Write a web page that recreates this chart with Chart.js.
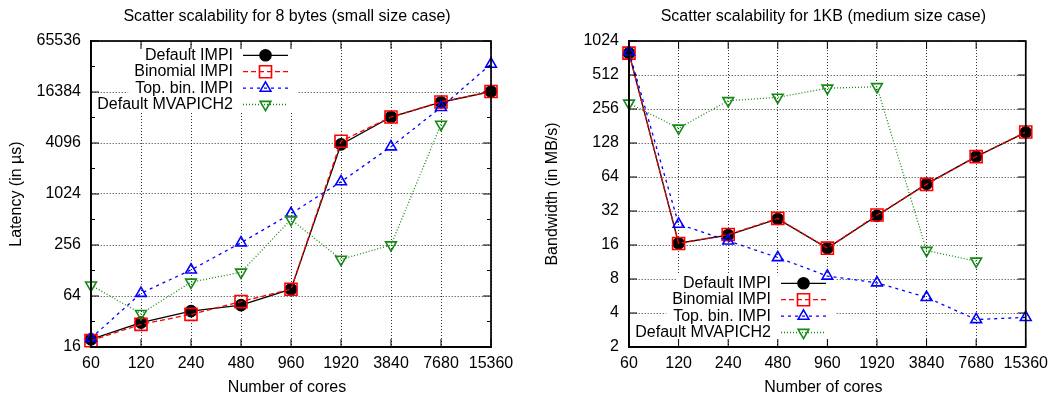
<!DOCTYPE html>
<html>
<head>
<meta charset="utf-8">
<script src="https://cdn.jsdelivr.net/npm/chart.js@4.4.0/dist/chart.umd.min.js"></script>
<style>
  html, body { margin: 0; padding: 0; background: #fff; }
  #wrap { position: relative; width: 1055px; height: 399px; }
  canvas { position: absolute; top: 0; }
</style>
</head>
<body>
<div id="wrap">
  <canvas id="small" width="527" height="399" style="left:0"></canvas>
  <canvas id="medium" width="528" height="399" style="left:527px"></canvas>
</div>
<script>
const cores = ['60', '120', '240', '480', '960', '1920', '3840', '7680', '15360'];
const seriesNames = ['Default IMPI', 'Binomial IMPI', 'Top. bin. IMPI', 'Default MVAPICH2'];

// 8 bytes, latency in us
const smallDefault  = [19.7, 31, 42.4, 50, 77, 3950, 8300, 12400, 16600];
const smallBinomial = [19, 29.6, 38.8, 55, 77, 4300, 8300, 12500, 16600];
const smallTopBin   = [20.3, 69, 130, 272, 600, 1430, 3700, 10800, 35000];
const smallMvapich  = [86, 39.6, 93, 122, 512, 173, 256, 6800, null];
const smallTicks = [16, 64, 256, 1024, 4096, 16384, 65536];
const smallMinor = [32, 128, 512, 2048, 8192, 32768];

// 1KB, bandwidth in MB/s
const mediumDefault  = [800, 16.6, 19.6, 27.2, 15, 29, 55.6, 97, 159];
const mediumBinomial = [800, 16.5, 19.8, 27.5, 15, 29.5, 55, 97, 160];
const mediumTopBin   = [820, 24.5, 17.4, 12.4, 8.5, 7.4, 5.5, 3.5, 3.66];
const mediumMvapich  = [288, 173, 303, 325, 391, 403, 14.3, 11.5, null];
const mediumTicks = [2, 4, 8, 16, 32, 64, 128, 256, 512, 1024];

const FONT = '16px "Liberation Sans", Arial, sans-serif';
Chart.defaults.font.family = '"Liberation Sans", Arial, sans-serif';
Chart.defaults.font.size = 16;
Chart.defaults.color = '#000';

const looks = [
  { color: '#000000', dash: [], point: 'circle', radius: 5.5, fill: '#000000', rot: 0 },
  { color: '#ff0000', dash: [5, 3], point: 'rect', radius: 8.5, fill: 'rgba(0,0,0,0)', rot: 0 },
  { color: '#0000ff', dash: [3, 4], point: 'triangle', radius: 6.2, fill: 'rgba(0,0,0,0)', rot: 0 },
  { color: '#138a13', dash: [1, 2], point: 'triangle', radius: 6.2, fill: 'rgba(0,0,0,0)', rot: 180 }
];

function drawMarker(ctx, ds, x, y) {
  ctx.save();
  ctx.setLineDash([]);
  ctx.lineWidth = ds.pointBorderWidth;
  ctx.strokeStyle = ds.borderColor;
  ctx.fillStyle = ds.pointBackgroundColor;
  const r = ds.pointRadius;
  ctx.beginPath();
  if (ds.pointStyle === 'circle') {
    ctx.arc(x, y, r, 0, Math.PI * 2);
  } else if (ds.pointStyle === 'rect') {
    const h = r * Math.SQRT1_2;
    ctx.rect(x - h, y - h, 2 * h, 2 * h);
  } else {
    const rot = ds.pointRotation * Math.PI / 180;
    for (let k = 0; k < 3; k++) {
      const t = rot + k * 2 * Math.PI / 3;
      const px = x + Math.sin(t) * r, py = y - Math.cos(t) * r;
      if (k === 0) ctx.moveTo(px, py); else ctx.lineTo(px, py);
    }
    ctx.closePath();
  }
  ctx.fill();
  ctx.stroke();
  ctx.restore();
}

// gnuplot look: opaque key rows, full border, inward ticks, titles
const gnuplotLook = {
  id: 'gnuplotLook',
  beforeDatasetsDraw(chart, args, opts) {
    const ctx = chart.ctx, a = chart.chartArea;
    ctx.save();
    ctx.font = FONT;
    ctx.fillStyle = '#fff';
    chart.data.datasets.forEach((ds, i) => {
      const y = opts.keyY + i * opts.keyStep;
      const left = Math.max(a.left + 1.5, opts.keyRight - ctx.measureText(ds.label).width - 7);
      ctx.fillRect(left, y - opts.keyStep / 2, opts.keyRight + 64 - left, opts.keyStep);
    });
    ctx.restore();
  },
  afterDatasetsDraw(chart, args, opts) {
    const ctx = chart.ctx, a = chart.chartArea;
    const xs = chart.scales.x, ys = chart.scales.y;
    ctx.save();
    ctx.strokeStyle = '#000';
    ctx.lineWidth = 1;
    ctx.beginPath();
    cores.forEach((c, i) => {
      const px = xs.getPixelForValue(i);
      ctx.moveTo(px, a.bottom); ctx.lineTo(px, a.bottom - 8);
      ctx.moveTo(px, a.top); ctx.lineTo(px, a.top + 8);
    });
    opts.major.forEach(v => {
      const py = ys.getPixelForValue(v);
      ctx.moveTo(a.left, py); ctx.lineTo(a.left + 8, py);
      ctx.moveTo(a.right, py); ctx.lineTo(a.right - 8, py);
    });
    opts.minor.forEach(v => {
      const py = ys.getPixelForValue(v);
      ctx.moveTo(a.left, py); ctx.lineTo(a.left + 4, py);
      ctx.moveTo(a.right, py); ctx.lineTo(a.right - 4, py);
    });
    ctx.stroke();
    ctx.lineWidth = 1.7;
    ctx.strokeRect(a.left, a.top, a.right - a.left, a.bottom - a.top);

    // key
    ctx.font = FONT;
    ctx.textAlign = 'right';
    ctx.textBaseline = 'middle';
    ctx.fillStyle = '#000';
    chart.data.datasets.forEach((ds, i) => {
      const y = opts.keyY + i * opts.keyStep;
      ctx.fillText(ds.label, opts.keyRight, y);
      ctx.save();
      ctx.strokeStyle = ds.borderColor;
      ctx.lineWidth = ds.borderWidth;
      ctx.setLineDash(ds.borderDash);
      ctx.beginPath();
      ctx.moveTo(opts.keyRight + 10, y);
      ctx.lineTo(opts.keyRight + 55, y);
      ctx.stroke();
      ctx.restore();
      drawMarker(ctx, ds, opts.keyRight + 32.5, y);
    });
    ctx.restore();
  },
  afterDraw(chart, args, opts) {
    const ctx = chart.ctx, a = chart.chartArea;
    const cx = (a.left + a.right) / 2 - 4;
    ctx.save();
    ctx.font = FONT;
    ctx.fillStyle = '#000';
    ctx.textAlign = 'center';
    ctx.textBaseline = 'middle';
    ctx.fillText(opts.title, cx, 16.7);
    ctx.fillText(opts.xTitle, cx, 388);
    ctx.translate(opts.yTitleX, (a.top + a.bottom) / 2);
    ctx.rotate(-Math.PI / 2);
    ctx.fillText(opts.yTitle, 0, 0);
    ctx.restore();
  }
};

function makeChart(id, series, cfg) {
  const datasets = series.map((vals, i) => ({
    label: seriesNames[i],
    data: vals,
    order: series.length - i,
    borderColor: looks[i].color,
    backgroundColor: looks[i].fill,
    borderWidth: 1.3,
    borderDash: looks[i].dash,
    pointStyle: looks[i].point,
    pointRadius: looks[i].radius,
    pointRotation: looks[i].rot,
    pointBorderWidth: 1.6,
    pointBorderColor: looks[i].color,
    pointBackgroundColor: looks[i].fill,
    tension: 0,
    spanGaps: false,
    clip: false
  }));
  return new Chart(document.getElementById(id), {
    type: 'line',
    data: { labels: cores, datasets: datasets },
    options: {
      responsive: false,
      animation: false,
      devicePixelRatio: 1,
      events: [],
      layout: { padding: { top: 41, right: cfg.padRight, bottom: 0, left: 0 } },
      plugins: {
        legend: { display: false },
        tooltip: { enabled: false },
        title: { display: false },
        gnuplotLook: {
          title: cfg.title, xTitle: 'Number of cores', yTitle: cfg.yTitle, yTitleX: cfg.yTitleX,
          keyRight: cfg.keyRight, keyY: cfg.keyY, keyStep: 16.4,
          major: cfg.ticks, minor: cfg.minor
        }
      },
      scales: {
        x: {
          type: 'category',
          offset: false,
          grid: { color: 'rgba(0,0,0,0.8)', lineWidth: 1, drawTicks: false },
          border: { display: true, color: '#000', width: 1.7, dash: [1, 2] },
          ticks: { padding: 7, autoSkip: false, maxRotation: 0, minRotation: 0 },
          afterFit: s => { s.height = 52; }
        },
        y: {
          type: 'logarithmic',
          min: cfg.ticks[0],
          max: cfg.ticks[cfg.ticks.length - 1],
          bounds: 'data',
          grid: { color: 'rgba(0,0,0,0.8)', lineWidth: 1, drawTicks: false },
          border: { display: true, color: '#000', width: 1.7, dash: [1, 2] },
          ticks: { padding: 10, autoSkip: false, callback: v => String(v) },
          afterBuildTicks: s => { s.ticks = cfg.ticks.map(v => ({ value: v })); },
          afterFit: s => { s.width = cfg.axisWidth; }
        }
      }
    },
    plugins: [gnuplotLook]
  });
}

makeChart('small', [smallDefault, smallBinomial, smallTopBin, smallMvapich], {
  title: 'Scatter scalability for 8 bytes (small size case)',
  yTitle: 'Latency (in \u00b5s)', yTitleX: 16.5,
  ticks: smallTicks, minor: smallMinor,
  axisWidth: 91, padRight: 36,
  keyRight: 233, keyY: 55.3
});

makeChart('medium', [mediumDefault, mediumBinomial, mediumTopBin, mediumMvapich], {
  title: 'Scatter scalability for 1KB (medium size case)',
  yTitle: 'Bandwidth (in MB/s)', yTitleX: 26,
  ticks: mediumTicks, minor: [],
  axisWidth: 102, padRight: 26,
  keyRight: 244, keyY: 283.3
});
</script>
</body>
</html>
